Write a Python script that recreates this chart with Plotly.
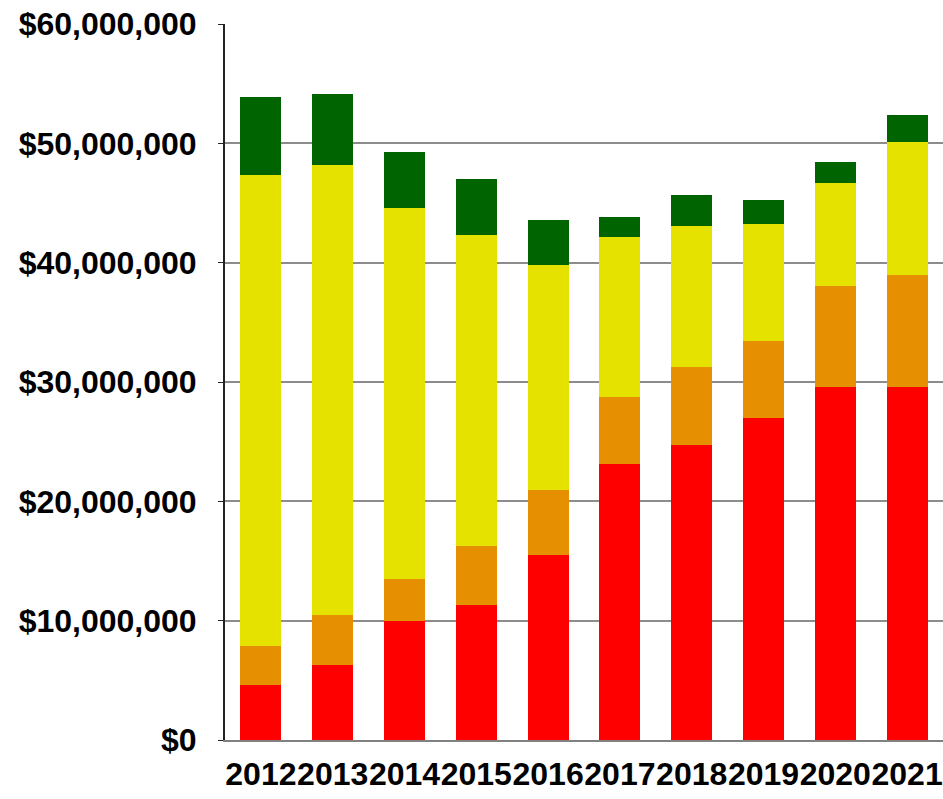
import plotly.graph_objects as go

# Yearly totals split into four stacked categories (US dollars, in millions)
years = ["2012", "2013", "2014", "2015", "2016", "2017", "2018", "2019", "2020", "2021"]
red_vals = [4.64, 6.26, 10.00, 11.32, 15.48, 23.16, 24.70, 27.02, 29.62, 29.62]
orange_vals = [3.26, 4.22, 3.52, 4.91, 5.50, 5.62, 6.59, 6.45, 8.46, 9.36]
yellow_vals = [39.43, 37.69, 31.02, 26.07, 18.83, 13.36, 11.82, 9.78, 8.58, 11.17]
green_vals = [6.54, 5.93, 4.75, 4.72, 3.80, 1.67, 2.57, 2.01, 1.79, 2.24]

tick_vals = [0, 10e6, 20e6, 30e6, 40e6, 50e6, 60e6]
tick_text = ["$0", "$10,000,000", "$20,000,000", "$30,000,000",
             "$40,000,000", "$50,000,000", "$60,000,000"]

series = [
    ("Red", red_vals, "#FF0000"),
    ("Orange", orange_vals, "#E68F00"),
    ("Yellow", yellow_vals, "#E6E200"),
    ("Green", green_vals, "#006400"),
]

fig = go.Figure()
for name, vals, color in series:
    fig.add_trace(go.Bar(
        x=years,
        y=[v * 1e6 for v in vals],
        name=name,
        marker=dict(color=color, line=dict(width=0)),
    ))

y_font = dict(family="Liberation Sans, Arial, sans-serif", size=32,
              color="#000000", weight="bold")
x_font = dict(family="Liberation Sans, Arial, sans-serif", size=32,
              color="#000000", weight="bold")

fig.update_layout(
    barmode="stack",
    bargap=0.43,
    width=943,
    height=799,
    margin=dict(l=225, r=0, t=24, b=59),
    paper_bgcolor="white",
    plot_bgcolor="white",
    showlegend=False,
    xaxis=dict(
        type="category",
        tickfont=x_font,
        tickangle=0,
        showline=True,
        linecolor="#808080",
        linewidth=2,
        showgrid=False,
        ticks="",
        ticklabelstandoff=5,
    ),
    yaxis=dict(
        range=[0, 60e6],
        tickvals=tick_vals,
        ticktext=tick_text,
        tickfont=y_font,
        showline=True,
        linecolor="#222222",
        linewidth=2,
        showgrid=True,
        gridcolor="#8c8c8c",
        gridwidth=2,
        ticks="outside",
        ticklen=5,
        tickcolor="#222222",
        tickwidth=1,
        ticklabelstandoff=15,
        zeroline=False,
    ),
)

fig.write_html("out.html")
